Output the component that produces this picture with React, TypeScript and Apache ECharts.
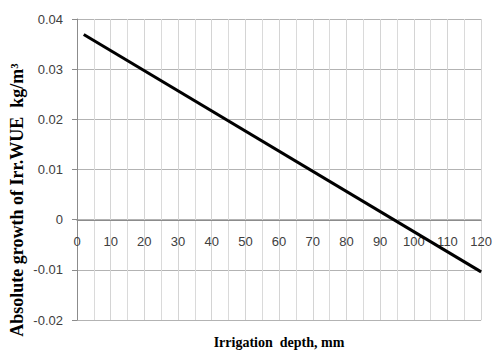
import React, { useEffect, useRef } from "react";
import * as echarts from "echarts";

const xValues = [2, 120];
const yValues = [0.0369, -0.0104];
const yTickLabels: Record<string, string> = {
  "0.04": "0.04",
  "0.03": "0.03",
  "0.02": "0.02",
  "0.01": "0.01",
  "0": "0",
  "-0.01": "-0.01",
  "-0.02": "-0.02",
};
const xTitle = "Irrigation  depth, mm";
const yTitle = "Absolute growth of Irr.WUE  kg/m³";

export default function App() {
  const ref = useRef<HTMLDivElement>(null);
  useEffect(() => {
    if (!ref.current) return;
    const chart = echarts.init(ref.current, null, { renderer: "svg" });
    const labelFont = "'Liberation Sans', Arial, sans-serif";
    const titleFont = "'Liberation Serif', 'Times New Roman', serif";
    chart.setOption({
      animation: false,
      backgroundColor: "#ffffff",
      grid: { left: 77, top: 19, right: 11, bottom: 32, containLabel: false },
      xAxis: [
        {
          type: "value",
          min: 0,
          max: 120,
          interval: 10,
          offset: -100,
          axisLine: { show: true, onZero: false, lineStyle: { color: "#8c8c8c", width: 1 } },
          axisTick: { show: false },
          axisLabel: {
            color: "#404040",
            fontFamily: labelFont,
            fontSize: 13,
            margin: 15,
            showMaxLabel: true,
            showMinLabel: true,
          },
          splitLine: { show: true, lineStyle: { color: "#d4d4d4", width: 1 } },
          minorTick: { show: false, splitNumber: 2 },
          minorSplitLine: { show: true, lineStyle: { color: "#dadada", width: 1 } },
        },
      ],
      yAxis: {
        type: "value",
        min: -0.02,
        max: 0.04,
        interval: 0.01,
        axisLine: { show: true, lineStyle: { color: "#8c8c8c", width: 1 } },
        axisTick: { show: true, length: 5, lineStyle: { color: "#8c8c8c" } },
        axisLabel: {
          color: "#404040",
          fontFamily: labelFont,
          fontSize: 13,
          margin: 14,
          formatter: (v: number) => {
            const k = String(Math.round(v * 100) / 100);
            return yTickLabels[k] ?? k;
          },
        },
        splitLine: { show: true, lineStyle: { color: "#b3b3b3", width: 1 } },
      },
      series: [
        {
          type: "line",
          data: xValues.map((x, i) => [x, yValues[i]]),
          showSymbol: false,
          symbol: "none",
          lineStyle: { color: "#000000", width: 3 },
        },
      ],
      graphic: [
        {
          type: "text",
          x: 17,
          y: 200,
          rotation: Math.PI / 2,
          style: {
            text: yTitle,
            fontFamily: titleFont,
            fontWeight: "bold",
            fontSize: 18,
            fill: "#000000",
            textAlign: "center",
            textVerticalAlign: "middle",
          },
        },
        {
          type: "text",
          x: 279,
          y: 342,
          style: {
            text: xTitle,
            fontFamily: titleFont,
            fontWeight: "bold",
            fontSize: 14,
            fill: "#000000",
            textAlign: "center",
            textVerticalAlign: "middle",
          },
        },
      ],
    });
    return () => chart.dispose();
  }, []);
  return (
    <div
      ref={ref}
      style={{ position: "absolute", left: 0, top: 0, width: 495, height: 352 }}
    />
  );
}
